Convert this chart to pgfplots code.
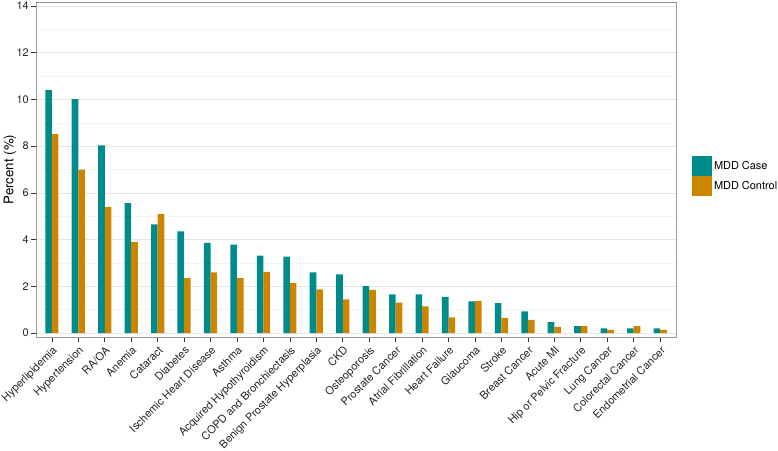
\documentclass[border=0pt]{standalone}
\usepackage{fontspec}
\setmainfont{TeX Gyre Heros}
\usepackage{pgfplots}
\pgfplotsset{compat=1.18}
\definecolor{casec}{HTML}{008B8B}
\definecolor{ctrlc}{HTML}{CD8500}
\definecolor{gridmaj}{HTML}{E6E6E6}
\definecolor{gridmin}{HTML}{F4F4F4}
\definecolor{borderc}{HTML}{9A9A9A}
\begin{document}
\begin{tikzpicture}
\useasboundingbox (0bp,0bp) rectangle (778bp,451bp);
\begin{axis}[
  at={(36bp,114bp)}, anchor=south west,
  scale only axis, width=640bp, height=335bp,
  xmin=-0.6, xmax=23.6, ymin=-0.171, ymax=14.171,
  xtick={0,...,23},
  xticklabels={Hyperlipidemia,Hypertension,RA/OA,Anemia,Cataract,Diabetes,Ischemic Heart Disease,Asthma,Acquired Hypothyroidism,COPD and Bronchiectasis,Benign Prostate Hyperplasia,CKD,Osteoporosis,Prostate Cancer,Atrial Fibrillation,Heart Failure,Glaucoma,Stroke,Breast Cancer,Acute MI,Hip or Pelvic Fracture,Lung Cancer,Colorectal Cancer,Endometrial Cancer},
  ytick={0,2,...,14},
  minor ytick={1,3,...,13},
  ymajorgrids, yminorgrids,
  major grid style={gridmaj, line width=0.7bp},
  minor grid style={gridmin, line width=0.5bp},
  axis line style={borderc, line width=0.8bp},
  tick pos=left, tick align=outside,
  major tick length=5bp, minor tick length=0pt,
  tick style={black!80, line width=0.7bp},
  /pgf/number format/assume math mode=true,
  ticklabel style={font=\fontsize{11}{13}\selectfont, text=black!85},
  xticklabel style={font=\fontsize{11}{13}\selectfont, rotate=45, anchor=north east, inner sep=1.5bp},
  xticklabel shift=1bp,
  yticklabel style={inner sep=2bp},
  ylabel={Percent (\%)},
  ylabel style={font=\fontsize{13.3}{15}\selectfont, at={(axis description cs:-0.0406,0.5)}, anchor=center},
  legend style={at={(axis description cs:1.025,0.540)}, anchor=north west, draw=none, fill=none,
    inner sep=0pt, outer sep=0pt, row sep=0pt,
    nodes={inner sep=0pt, outer sep=0pt, font=\fontsize{11}{13}\selectfont, anchor=west}},
  legend cell align=left,
  ybar, bar width=0.25,
  clip=false,
]
\addplot[fill=casec, draw=none, bar shift=-0.125,
  legend image code/.code={\fill[casec] (0bp,-10bp) rectangle (20bp,10bp); \path (22bp,0) ;}]
  coordinates {(0,10.41) (1,10.01) (2,8.03) (3,5.56) (4,4.65) (5,4.35) (6,3.86) (7,3.78) (8,3.31) (9,3.27) (10,2.60) (11,2.51) (12,2.01) (13,1.65) (14,1.65) (15,1.55) (16,1.35) (17,1.28) (18,0.93) (19,0.47) (20,0.29) (21,0.20) (22,0.20) (23,0.20)};
\addplot[fill=ctrlc, draw=none, bar shift=0.125,
  legend image code/.code={\fill[ctrlc] (0bp,-10bp) rectangle (20bp,10bp); \path (22bp,0) ;}]
  coordinates {(0,8.51) (1,6.99) (2,5.40) (3,3.89) (4,5.09) (5,2.35) (6,2.60) (7,2.35) (8,2.62) (9,2.15) (10,1.87) (11,1.44) (12,1.85) (13,1.30) (14,1.14) (15,0.67) (16,1.38) (17,0.65) (18,0.56) (19,0.26) (20,0.29) (21,0.13) (22,0.29) (23,0.13)};
\legend{MDD Case, MDD Control}
\end{axis}
\end{tikzpicture}
\end{document}
